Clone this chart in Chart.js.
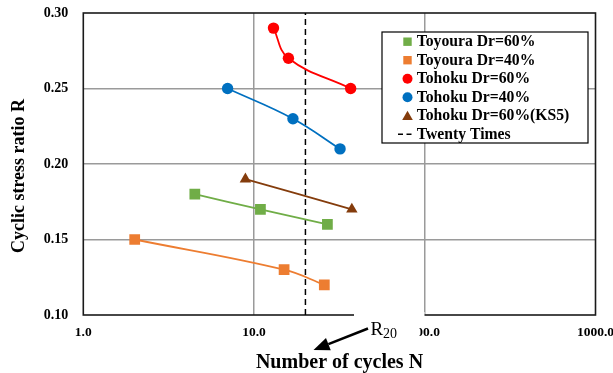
<!DOCTYPE html>
<html>
<head>
<meta charset="utf-8">
<script src="https://cdn.jsdelivr.net/npm/chart.js@4/dist/chart.umd.min.js"></script>
<style>
  html, body { margin: 0; padding: 0; background: #fff; }
  #wrap { width: 613px; height: 373px; }
</style>
</head>
<body>
<div id="wrap"><canvas id="c" width="613" height="373"></canvas></div>
<script>
// Tick values
const xTicks = [1, 10, 100, 1000];
const yTicks = [0.10, 0.15, 0.20, 0.25, 0.30];

// Number of cycles N and cyclic stress ratio R for each test series
const toyoura60N = [4.5, 10.9, 26.9];
const toyoura60R = [0.18, 0.17, 0.16];
const toyoura40N = [2.0, 15.0, 25.8];
const toyoura40R = [0.15, 0.13, 0.12];
const tohoku60N = [13.0, 15.9, 36.8];
const tohoku60R = [0.29, 0.27, 0.25];
const tohoku40N = [7.0, 16.9, 31.9];
const tohoku40R = [0.25, 0.23, 0.21];
const ks5N = [8.9, 37.4];
const ks5R = [0.19, 0.17];
const twentyN = [20, 20];
const twentyR = [0.10, 0.30];

const SERIF = '"Liberation Serif", "Times New Roman", serif';
const pts = (xs, ys) => xs.map((x, i) => ({ x: x, y: ys[i] }));

function series(label, xs, ys, color, style, radius, mark) {
  return {
    label: label,
    data: pts(xs, ys),
    showLine: true,
    borderColor: color,
    backgroundColor: color,
    borderWidth: 1.8,
    tension: 0.4,
    pointStyle: style,
    pointRadius: radius,
    pointBorderWidth: 0,
    pointBackgroundColor: color,
    legendMark: mark
  };
}

const datasets = [
  series('Toyoura Dr=60%', toyoura60N, toyoura60R, '#70AD47', 'rect', 7.6, 'square'),
  series('Toyoura Dr=40%', toyoura40N, toyoura40R, '#ED7D31', 'rect', 7.6, 'square'),
  series('Tohoku Dr=60%', tohoku60N, tohoku60R, '#FF0000', 'circle', 5.7, 'circle'),
  series('Tohoku Dr=40%', tohoku40N, tohoku40R, '#0070C0', 'circle', 5.7, 'circle'),
  series('Tohoku Dr=60%(KS5)', ks5N, ks5R, '#843C0C', 'triangle', 6.6, 'triangle'),
  {
    label: 'Twenty Times',
    data: pts(twentyN, twentyR),
    showLine: true,
    borderColor: '#000',
    borderWidth: 1.5,
    borderDash: [6, 4],
    pointRadius: 0,
    tension: 0,
    legendMark: 'dash'
  }
];

// Plot frame, legend box, axis titles and the R20 call-out
const decor = {
  id: 'decor',
  beforeDatasetsDraw(chart) {
    const { ctx, chartArea: a } = chart;
    ctx.save();
    ctx.strokeStyle = '#1a1a1a';
    ctx.lineWidth = 1.6;
    ctx.strokeRect(a.left, a.top, a.right - a.left, a.bottom - a.top);
    ctx.restore();
  },
  afterDraw(chart) {
    const { ctx } = chart;
    ctx.save();

    // legend
    const lx = 382, ly = 32, lw = 206, lh = 111;
    ctx.fillStyle = '#fff';
    ctx.fillRect(lx, ly, lw, lh);
    ctx.strokeStyle = '#000';
    ctx.lineWidth = 1.2;
    ctx.strokeRect(lx, ly, lw, lh);
    ctx.font = 'bold 15.7px ' + SERIF;
    ctx.textBaseline = 'middle';
    ctx.textAlign = 'left';
    chart.data.datasets.forEach((ds, i) => {
      const cy = 41.7 + i * 18.5;
      const cx = 407.5;
      ctx.fillStyle = ds.borderColor;
      ctx.strokeStyle = ds.borderColor;
      if (ds.legendMark === 'square') {
        ctx.fillRect(cx - 4.2, cy - 4.2, 8.4, 8.4);
      } else if (ds.legendMark === 'circle') {
        ctx.beginPath();
        ctx.arc(cx, cy, 5, 0, Math.PI * 2);
        ctx.fill();
      } else if (ds.legendMark === 'triangle') {
        ctx.beginPath();
        ctx.moveTo(cx, cy - 5);
        ctx.lineTo(cx + 5.3, cy + 4.2);
        ctx.lineTo(cx - 5.3, cy + 4.2);
        ctx.closePath();
        ctx.fill();
      } else {
        ctx.lineWidth = 1.5;
        ctx.beginPath();
        ctx.moveTo(398, cy); ctx.lineTo(403, cy);
        ctx.moveTo(406.5, cy); ctx.lineTo(411.5, cy);
        ctx.stroke();
      }
      ctx.fillStyle = '#000';
      ctx.fillText(ds.label, 416.7, cy + 0.5);
    });

    // axis titles
    ctx.fillStyle = '#000';
    ctx.font = 'bold 20px ' + SERIF;
    ctx.textAlign = 'center';
    ctx.textBaseline = 'alphabetic';
    ctx.fillText('Number of cycles N', 339.5, 368);

    ctx.save();
    ctx.translate(24, 176);
    ctx.rotate(-Math.PI / 2);
    ctx.font = 'bold 18px ' + SERIF;
    ctx.fillText('Cyclic stress ratio R', 0, 0);
    ctx.restore();

    // R20 call-out: white text box over the axis, label and arrow
    ctx.fillStyle = '#fff';
    ctx.fillRect(354, 312, 70.5, 8);
    ctx.fillRect(354, 320, 65.5, 24);
    ctx.fillStyle = '#000';
    ctx.textAlign = 'left';
    ctx.font = '19px ' + SERIF;
    ctx.fillText('R', 370.5, 334.5);
    ctx.font = '14px ' + SERIF;
    ctx.fillText('20', 383, 337.5);

    const x0 = 368, y0 = 328.5, x1 = 313.5, y1 = 350;
    const ang = Math.atan2(y1 - y0, x1 - x0);
    const hl = 16, hw = 6.5;
    const bx = x1 - Math.cos(ang) * hl, by = y1 - Math.sin(ang) * hl;
    ctx.strokeStyle = '#000';
    ctx.lineWidth = 2.6;
    ctx.beginPath();
    ctx.moveTo(x0, y0);
    ctx.lineTo(bx, by);
    ctx.stroke();
    ctx.beginPath();
    ctx.moveTo(x1, y1);
    ctx.lineTo(bx + Math.sin(ang) * hw, by - Math.cos(ang) * hw);
    ctx.lineTo(bx - Math.sin(ang) * hw, by + Math.cos(ang) * hw);
    ctx.closePath();
    ctx.fill();

    ctx.restore();
  }
};

const gridColor = (ends) => (c) => {
  const v = c.tick ? c.tick.value : null;
  return (v !== null && ends.some(e => Math.abs(e - v) < 1e-9)) ? 'rgba(0,0,0,0)' : '#9a9a9a';
};

new Chart(document.getElementById('c'), {
  type: 'scatter',
  data: { datasets: datasets },
  options: {
    responsive: false,
    animation: false,
    events: [],
    layout: { padding: { top: 13, right: 17.5, left: 0, bottom: 0 } },
    plugins: { legend: { display: false }, tooltip: { enabled: false } },
    scales: {
      x: {
        type: 'logarithmic',
        min: xTicks[0],
        max: xTicks[xTicks.length - 1],
        afterBuildTicks: (s) => { s.ticks = xTicks.map(v => ({ value: v })); },
        afterFit: (s) => {
          s.height = 58;
          s.paddingLeft = 0; s.paddingRight = 0; s.paddingTop = 0; s.paddingBottom = 0;
        },
        grid: { color: gridColor([xTicks[0], xTicks[xTicks.length - 1]]), lineWidth: 1.5, drawTicks: false },
        border: { display: false },
        ticks: {
          padding: 9,
          color: '#000',
          font: { family: SERIF, size: 13.5, weight: 'bold' },
          maxRotation: 0,
          autoSkip: false,
          callback: (v) => Number(v).toFixed(1)
        }
      },
      y: {
        min: yTicks[0],
        max: yTicks[yTicks.length - 1],
        afterBuildTicks: (s) => { s.ticks = yTicks.map(v => ({ value: v })); },
        afterFit: (s) => {
          s.width = 83.3;
          s.paddingLeft = 0; s.paddingRight = 0; s.paddingTop = 0; s.paddingBottom = 0;
        },
        grid: { color: gridColor([yTicks[0], yTicks[yTicks.length - 1]]), lineWidth: 1.5, drawTicks: false },
        border: { display: false },
        ticks: {
          padding: 15,
          color: '#000',
          font: { family: SERIF, size: 14, weight: 'bold' },
          callback: (v) => Number(v).toFixed(2)
        }
      }
    }
  },
  plugins: [decor]
});
</script>
</body>
</html>
